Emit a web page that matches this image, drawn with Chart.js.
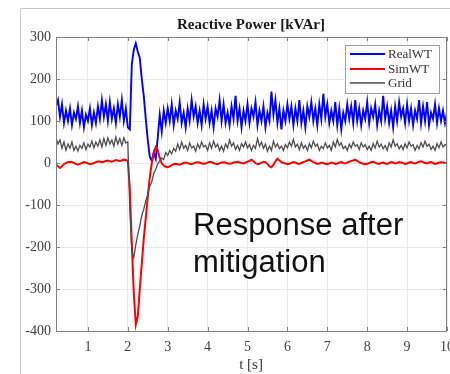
<!DOCTYPE html>
<html>
<head>
<meta charset="utf-8">
<script src="https://cdn.jsdelivr.net/npm/chart.js@4/dist/chart.umd.min.js"></script>
<style>
  html, body { margin: 0; padding: 0; background: #fff; }
  #wrap { width: 450px; height: 374px; position: relative; }
</style>
</head>
<body>
<div id="wrap"><canvas id="chart" width="450" height="374"></canvas></div>
<script>
// samples every 0.05 s, starting at t = 0.2 s
const t0 = 0.2;
const dt = 0.05;

const xTicks = [1, 2, 3, 4, 5, 6, 7, 8, 9, 10];
const yTicks = [-400, -300, -200, -100, 0, 100, 200, 300];

const labels = ['RealWT', 'SimWT', 'Grid'];

const realWT = [
  135,150,110,140,95,125,100,130,90,120,105,135,95,125,85,115,100,130,90,120,
  95,135,105,150,110,140,100,145,105,130,95,140,110,150,100,130,85,
  80,235,270,285,265,250,200,160,105,55,15,5,25,10,60,115,75,125,
  95,130,100,140,90,125,105,145,95,120,85,130,100,150,110,135,95,125,90,140,
  105,135,95,125,85,130,110,150,100,140,95,120,90,135,105,160,100,130,85,125,
  100,140,95,130,110,145,90,125,100,135,85,120,100,170,115,150,95,130,80,125,
  100,140,105,135,90,130,100,150,95,125,85,135,110,145,100,130,90,140,105,165,
  110,140,95,125,100,145,90,130,80,120,100,140,105,135,95,150,100,130,90,125,
  105,145,95,130,110,140,90,125,100,160,105,135,95,125,85,135,100,145,110,130,
  95,140,100,130,90,125,105,150,95,135,100,145,90,120,105,140,95,130,100,125,
  95,120
];

const simWT = [
  -3,-8,-12,-8,-3,0,2,3,2,0,-2,-4,-2,0,2,1,-1,-3,-2,0,
  2,4,3,2,3,5,6,4,3,5,7,6,5,6,8,7,5,
  -60,-190,-310,-385,-365,-300,-240,-180,-130,-80,-35,0,25,38,30,12,0,-6,
  -9,-10,-8,-5,-3,-2,-3,-4,-2,0,1,0,-2,-3,-1,1,2,1,-1,-2,
  -1,1,3,2,0,-2,-3,-1,1,2,1,-1,-2,-1,1,2,3,1,0,-1,
  1,3,5,8,4,0,-3,-2,1,3,2,-2,-8,-10,-4,4,10,6,2,0,
  -1,-3,-2,0,2,1,-1,-2,0,2,4,6,8,5,2,0,-2,-1,1,0,
  -2,-3,-1,1,0,-2,-1,1,2,0,-1,1,3,5,6,8,5,2,0,-2,
  -3,-2,0,2,3,1,-1,-2,0,1,-1,-2,0,2,1,-1,0,2,1,0,
  -2,-1,1,2,0,-1,1,3,4,2,0,-1,1,2,0,-2,-1,1,2,1,
  0,1
];

const grid = [
  60,45,55,35,50,30,45,35,50,30,40,28,42,35,48,32,45,38,52,36,
  50,40,55,38,58,42,60,45,55,40,62,45,58,42,60,48,50,
  -110,-210,-225,-195,-170,-150,-125,-110,-90,-75,-55,-45,-25,-15,-2,5,12,8,
  25,18,30,22,35,28,45,32,50,35,42,30,48,36,40,28,45,35,50,38,
  42,30,48,35,52,38,45,30,40,28,45,36,55,40,48,32,42,30,46,38,
  50,36,44,30,42,35,58,40,50,35,45,28,40,30,52,38,46,34,40,30,
  44,36,50,40,56,38,45,32,48,35,42,30,46,36,52,40,45,30,40,34,
  48,36,42,30,50,38,56,42,48,34,40,30,45,36,50,40,44,32,48,38,
  44,32,40,30,46,36,52,38,45,34,42,30,48,38,55,40,46,34,42,32,
  46,36,50,40,44,30,42,34,48,38,52,40,45,32,40,30,46,36,50,38,
  44,40
];

const colors = ['#0000ff', '#ff0000', '#4d4d4d'];
const widths = [1.9, 2, 1.3];

function toPoints(vals) {
  return vals.map((v, i) => ({ x: +(t0 + i * dt).toFixed(2), y: v }));
}

const serif = '"Liberation Serif", "Times New Roman", serif';

const extras = {
  id: 'extras',
  beforeDraw(chart) {
    const c = chart.ctx;
    c.save();
    c.fillStyle = '#fff';
    c.fillRect(0, 0, chart.width, chart.height);
    c.strokeStyle = '#c8c8c8';
    c.lineWidth = 1;
    c.beginPath();
    c.moveTo(20.5, chart.height);
    c.lineTo(20.5, 8.5);
    c.lineTo(chart.width, 8.5);
    c.stroke();
    c.restore();
  },
  afterDraw(chart) {
    const c = chart.ctx;
    const a = chart.chartArea;
    const xs = chart.scales.x, ys = chart.scales.y;
    c.save();
    // box
    c.strokeStyle = '#808080';
    c.lineWidth = 1;
    c.strokeRect(a.left + 0.5, a.top + 0.5, a.right - a.left - 1, a.bottom - a.top);
    // inward tick marks
    c.beginPath();
    xTicks.forEach(v => {
      const px = Math.round(xs.getPixelForValue(v)) + 0.5;
      c.moveTo(px, a.bottom); c.lineTo(px, a.bottom - 4);
      c.moveTo(px, a.top); c.lineTo(px, a.top + 4);
    });
    yTicks.forEach(v => {
      const py = Math.round(ys.getPixelForValue(v)) + 0.5;
      c.moveTo(a.left, py); c.lineTo(a.left + 4, py);
      c.moveTo(a.right, py); c.lineTo(a.right - 4, py);
    });
    c.stroke();

    // title and x label
    c.fillStyle = '#1a1a1a';
    c.textAlign = 'center';
    c.textBaseline = 'middle';
    c.font = 'bold 15px ' + serif;
    c.fillText('Reactive Power [kVAr]', 251, 25);
    c.fillStyle = '#333';
    c.font = '15px ' + serif;
    c.fillText('t [s]', 251, 365);

    // legend
    c.fillStyle = '#fff';
    c.fillRect(345, 45, 94, 48);
    c.strokeStyle = '#a0a0a0';
    c.strokeRect(345.5, 45.5, 94, 48);
    c.font = '13px ' + serif;
    c.textAlign = 'left';
    const rows = [54, 69, 83];
    chart.data.datasets.forEach((ds, i) => {
      c.strokeStyle = ds.borderColor;
      c.lineWidth = i === 2 ? 1.5 : 2;
      c.beginPath();
      c.moveTo(350, rows[i]); c.lineTo(385, rows[i]);
      c.stroke();
      c.fillStyle = '#333';
      c.fillText(ds.label, 388, rows[i] + 1);
    });

    // annotation
    c.fillStyle = '#111';
    c.font = '31px "Liberation Sans", Arial, sans-serif';
    c.textBaseline = 'alphabetic';
    c.fillText('Response after', 193, 235);
    c.fillText('mitigation', 193, 272);
    c.restore();
  }
};

new Chart(document.getElementById('chart'), {
  type: 'line',
  data: {
    datasets: [realWT, simWT, grid].map((vals, i) => ({
      label: labels[i],
      data: toPoints(vals),
      borderColor: colors[i],
      borderWidth: widths[i],
      pointRadius: 0,
      tension: 0,
      order: 3 - i
    }))
  },
  options: {
    responsive: false,
    animation: false,
    layout: { padding: { top: 37, right: 3, left: 0, bottom: 0 } },
    plugins: { legend: { display: false }, title: { display: false }, tooltip: { enabled: false } },
    scales: {
      x: {
        type: 'linear',
        min: 0.2,
        max: 10,
        afterBuildTicks: s => { s.ticks = xTicks.map(v => ({ value: v })); },
        afterFit: s => { s.height = 43; s.paddingLeft = 0; s.paddingRight = 0; },
        grid: { color: '#e8e8e8', tickLength: 0 },
        border: { display: false },
        ticks: { padding: 8, color: '#404040', font: { family: serif, size: 14 }, maxRotation: 0 }
      },
      y: {
        min: -400,
        max: 300,
        afterBuildTicks: s => { s.ticks = yTicks.map(v => ({ value: v })); },
        afterFit: s => { s.width = 56; s.paddingTop = 0; s.paddingBottom = 0; },
        grid: { color: '#e8e8e8', tickLength: 0 },
        border: { display: false },
        ticks: { padding: 5, color: '#404040', font: { family: serif, size: 14 } }
      }
    }
  },
  plugins: [extras]
});
</script>
</body>
</html>
